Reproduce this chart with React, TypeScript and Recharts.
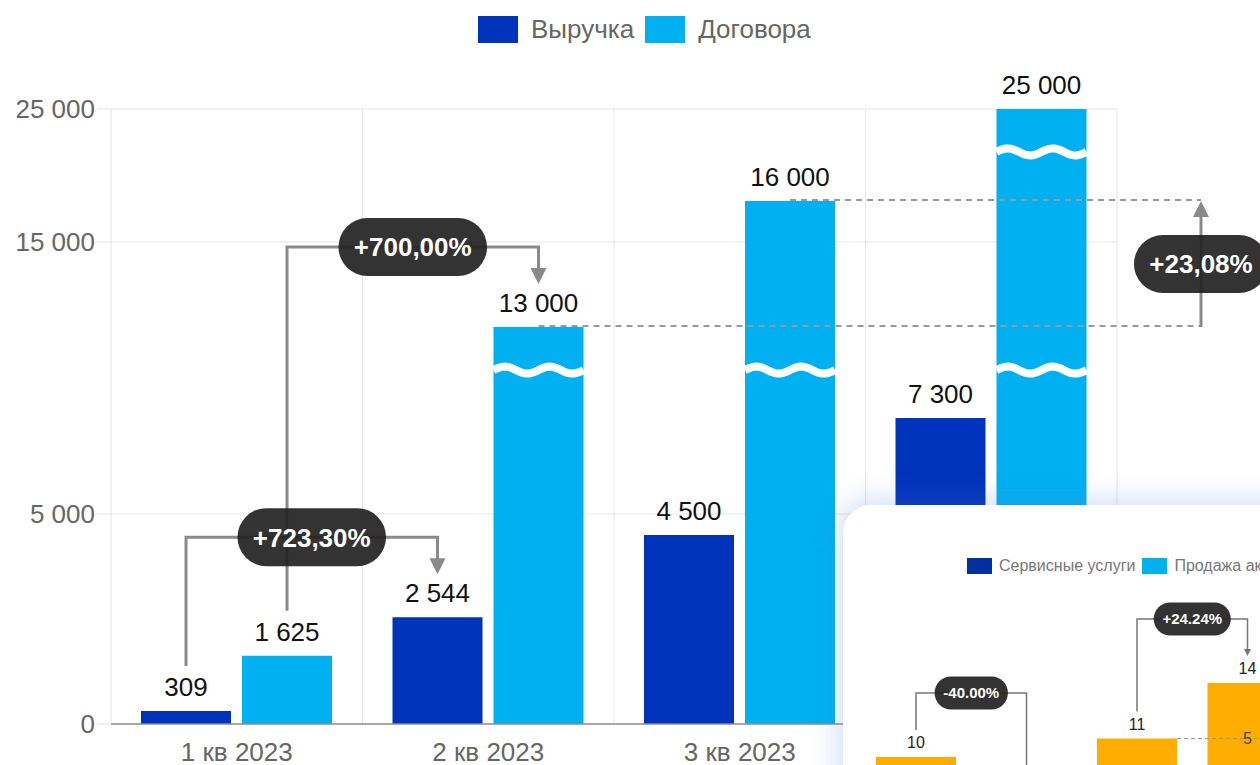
import React from "react";
import { BarChart, Bar, XAxis, YAxis, CartesianGrid, LabelList, Legend } from "recharts";

const quarters = ["1 кв 2023", "2 кв 2023", "3 кв 2023", "4 кв 2023"];
const revenue = [309, 2544, 4500, 7300];
const contracts = [1625, 13000, 16000, 25000];
const yTicks = [0, 5000, 15000, 25000];

// the axis is broken: value -> drawn height (px)
const scaleValues = [0, 5000, 7300, 13000, 15000, 16000, 25000];
const scaleHeights = [0, 210, 306, 397, 482, 523, 615];
const breakValues = [10300, 20800];

const revenueGrowth = "+723,30%";
const contractGrowth12 = "+700,00%";
const contractGrowth23 = "+23,08%";

// the second card peeking in at the bottom right
const insetCategories = ["I", "II", "III", "IV"];
const insetValues = [10, 6, 11, 14];
const insetLegendNames = ["Сервисные услуги", "Продажа аксессуаров"];
const insetChanges = ["-40.00%", "+24.24%"];
const insetNote = "5";

const DARK = "#0033bb";
const LIGHT = "#00b0f0";
const ORANGE = "#ffad00";
const LINE = "#8a8a8a";
const FONT = "'Liberation Sans', Arial, sans-serif";

const W = 1260;
const H = 765;
const MARGIN = { top: 109, right: 143, bottom: 0, left: 0 };
const Y_W = 111;
const X_H = 41;
const BAR = 90;
const GAP = 11;
const H_MAX = scaleHeights[scaleHeights.length - 1];

const plot = {
  left: MARGIN.left + Y_W,
  top: MARGIN.top,
  width: W - MARGIN.left - Y_W - MARGIN.right,
  height: H - MARGIN.top - MARGIN.bottom - X_H,
};

function toHeight(v: number) {
  for (let i = 1; i < scaleValues.length; i++) {
    if (v <= scaleValues[i]) {
      const t = (v - scaleValues[i - 1]) / (scaleValues[i] - scaleValues[i - 1]);
      return scaleHeights[i - 1] + t * (scaleHeights[i] - scaleHeights[i - 1]);
    }
  }
  return H_MAX;
}

const fmt = (v: number) => String(v).replace(/\B(?=(\d{3})+(?!\d))/g, " ");

const data = quarters.map((q, i) => ({
  quarter: q,
  revenue: toHeight(revenue[i]),
  contracts: toHeight(contracts[i]),
  revenueValue: revenue[i],
  contractsValue: contracts[i],
}));

const step = plot.width / quarters.length;
const barOffset = Math.floor((step - (2 * BAR + GAP)) / 2);
const barCenter = (s: number, i: number) =>
  plot.left + i * step + barOffset + s * (BAR + GAP) + BAR / 2;
const yOf = (v: number) => plot.top + plot.height - (toHeight(v) * plot.height) / H_MAX;

// approximate Arial Bold advance widths (em)
function textWidth(s: string, size: number) {
  let w = 0;
  for (const c of s) {
    if (c === "%") w += 0.889;
    else if (c === "+") w += 0.584;
    else if (c === "," || c === ".") w += 0.278;
    else if (c === "-") w += 0.333;
    else w += 0.556;
  }
  return w * size;
}

function wave(x: number, w: number, yc: number) {
  let d = `M${x},${yc}`;
  for (let t = 2; t <= w; t += 2) {
    d += ` L${x + t},${yc - 3.5 * Math.sin((t / w) * 4 * Math.PI)}`;
  }
  return d;
}

const BrokenBar = (props: any) => {
  const { x, y, width, height, fill, payload } = props;
  const bottom = y + height;
  const k = payload.contracts ? height / payload.contracts : 0;
  return (
    <g>
      <rect x={x} y={y} width={width} height={height} fill={fill} />
      {breakValues
        .filter((b) => b < payload.contractsValue)
        .map((b) => (
          <path key={b} d={wave(x, width, bottom - toHeight(b) * k)} stroke="#fff" strokeWidth={8} fill="none" />
        ))}
    </g>
  );
};

const ValueLabel = (p: any) => (
  <text x={p.x + p.width / 2} y={p.y - 15} textAnchor="middle" fontSize={26} fill="#111">
    {fmt(p.value)}
  </text>
);

const Pill = ({ cx, cy, text, size, h }: { cx: number; cy: number; text: string; size: number; h: number }) => {
  const w = textWidth(text, size) + h * 0.53;
  return (
    <g>
      <rect x={cx - w / 2} y={cy - h / 2} width={w} height={h} rx={h / 2} fill="#222" opacity={0.92} />
      <text x={cx} y={cy} dy="0.36em" textAnchor="middle" fontSize={size} fontWeight="bold" fill="#fff">
        {text}
      </text>
    </g>
  );
};

const MainLegend = (props: any) => (
  <div style={{ display: "flex", alignItems: "center" }}>
    {(props.payload || []).map((e: any) => (
      <div key={e.value} style={{ display: "flex", alignItems: "center", marginRight: 11 }}>
        <div style={{ width: 40, height: 27, background: e.color, marginRight: 13 }} />
        <span style={{ fontSize: 26, color: "#666", fontFamily: FONT }}>{e.value}</span>
      </div>
    ))}
  </div>
);

const brackets = [
  { text: revenueGrowth, s: 0, values: revenue, from: 0, to: 1 },
  { text: contractGrowth12, s: 1, values: contracts, from: 0, to: 1 },
];

function MainAnnotations() {
  const xR = plot.left + plot.width + 84;
  const yA = yOf(contracts[1]);
  const yB = yOf(contracts[2]);
  return (
    <svg width={W} height={H} style={{ position: "absolute", left: 0, top: 0, pointerEvents: "none", fontFamily: FONT }}>
      <path d={`M${barCenter(1, 1)},${yA - 1} H${xR}`} stroke="#999" strokeWidth={2} strokeDasharray="6 5" fill="none" />
      <path d={`M${barCenter(1, 2)},${yB - 1} H${xR}`} stroke="#999" strokeWidth={2} strokeDasharray="6 5" fill="none" />
      <path d={`M${xR},${yA} V${yB + 14}`} stroke={LINE} strokeWidth={3} fill="none" />
      <polygon points={`${xR - 8},${yB + 16} ${xR + 8},${yB + 16} ${xR},${yB}`} fill={LINE} />
      {brackets.map((b) => {
        const x1 = barCenter(b.s, b.from);
        const x2 = barCenter(b.s, b.to);
        const y1 = yOf(b.values[b.from]);
        const y2 = yOf(b.values[b.to]);
        const level = Math.min(y1, y2) - 80;
        return (
          <g key={b.text}>
            <path d={`M${x1},${y1 - 45} V${level} H${x2} V${y2 - 58}`} stroke={LINE} strokeWidth={3} fill="none" />
            <polygon points={`${x2 - 8},${y2 - 59} ${x2 + 8},${y2 - 59} ${x2},${y2 - 43}`} fill={LINE} />
          </g>
        );
      })}
      {brackets.map((b) => {
        const x1 = barCenter(b.s, b.from);
        const x2 = barCenter(b.s, b.to);
        const level = Math.min(yOf(b.values[b.from]), yOf(b.values[b.to])) - 80;
        return <Pill key={b.text} cx={(x1 + x2) / 2} cy={level} text={b.text} size={26} h={58} />;
      })}
      <Pill cx={xR} cy={(yA + yB) / 2} text={contractGrowth23} size={26} h={58} />
    </svg>
  );
}

// inset chart layout
const IN_W = 460;
const IN_H = 437;
const IN_M = { top: 67, right: 0, bottom: 0, left: 18 };
const IN_BAR = 80;
const IN_MAX = 20;
const inPlotW = IN_W - IN_M.left - IN_M.right;
const inPlotH = IN_H - IN_M.top - IN_M.bottom;
const inStep = inPlotW / insetCategories.length;
const inOffset = Math.floor((inStep - IN_BAR) / 2);
const inCenter = (i: number) => IN_M.left + i * inStep + inOffset + IN_BAR / 2;
const inY = (v: number) => IN_M.top + inPlotH - (v * inPlotH) / IN_MAX;

const insetData = insetCategories.map((c, i) => ({ cat: c, value: insetValues[i] }));

const InsetLegend = () => (
  <div style={{ display: "flex", alignItems: "center" }}>
    {insetLegendNames.map((n, i) => (
      <div key={n} style={{ display: "flex", alignItems: "center", marginRight: 7 }}>
        <div style={{ width: 25, height: 16, background: i === 0 ? "#0030a0" : LIGHT, marginRight: 7 }} />
        <span style={{ fontSize: 16, color: "#777", fontFamily: FONT, whiteSpace: "nowrap" }}>{n}</span>
      </div>
    ))}
  </div>
);

const InsetLabel = (p: any) => (
  <text x={p.x + p.width / 2} y={p.y - 9} textAnchor="middle" fontSize={16} fill="#222">
    {p.value}
  </text>
);

function InsetAnnotations() {
  const pairs = [
    [0, 1],
    [2, 3],
  ];
  return (
    <svg width={640} height={420} style={{ position: "absolute", left: 0, top: 0, pointerEvents: "none", fontFamily: FONT }}>
      <path
        d={`M${inCenter(2) + IN_BAR / 2},${inY(insetValues[2])} H${inCenter(3) + IN_BAR / 2}`}
        stroke="#999"
        strokeWidth={1}
        strokeDasharray="4 3"
        fill="none"
      />
      <text x={inCenter(3)} y={inY(insetValues[2])} dy="0.36em" textAnchor="middle" fontSize={16} fill="#444">
        {insetNote}
      </text>
      {pairs.map(([a, b], k) => {
        const x1 = inCenter(a);
        const x2 = inCenter(b);
        const y1 = inY(insetValues[a]);
        const y2 = inY(insetValues[b]);
        const level = Math.min(y1, y2) - 64;
        return (
          <g key={k}>
            <path d={`M${x1},${y1 - 27} V${level} H${x2} V${y2 - 33}`} stroke="#777" strokeWidth={1.5} fill="none" />
            <polygon points={`${x2 - 3.5},${y2 - 34} ${x2 + 3.5},${y2 - 34} ${x2},${y2 - 27}`} fill="#777" />
            <Pill cx={(x1 + x2) / 2} cy={level} text={insetChanges[k]} size={15} h={33} />
          </g>
        );
      })}
    </svg>
  );
}

export default function App() {
  const yTickHeights = yTicks.map(toHeight);
  return (
    <div
      style={{
        position: "fixed",
        left: 0,
        top: 0,
        width: W,
        height: H,
        overflow: "hidden",
        background: "#fff",
        fontFamily: FONT,
      }}
    >
      <BarChart width={W} height={H} data={data} margin={MARGIN} barSize={BAR} barGap={GAP}>
        <CartesianGrid
          stroke="#e6e6e6"
          verticalCoordinatesGenerator={({ offset }: any) =>
            quarters.map((_, i) => offset.left + (i * offset.width) / quarters.length).concat(offset.left + offset.width)
          }
        />
        <XAxis
          dataKey="quarter"
          height={X_H}
          interval={0}
          tickLine={false}
          tickSize={6}
          tickMargin={13}
          axisLine={{ stroke: "#8f8f8f", strokeWidth: 1.5 }}
          tick={{ fill: "#666", fontSize: 26 }}
        />
        <YAxis
          width={Y_W}
          domain={[0, H_MAX]}
          ticks={yTickHeights}
          interval={0}
          tickFormatter={(_: any, i: number) => fmt(yTicks[i])}
          axisLine={false}
          tickLine={{ stroke: "#e6e6e6" }}
          tickSize={14}
          tickMargin={2}
          tick={{ fill: "#666", fontSize: 26 }}
        />
        <Legend
          layout="horizontal"
          verticalAlign="middle"
          align="center"
          wrapperStyle={{ top: 14, left: 478, width: "auto" }}
          content={MainLegend}
        />
        <Bar dataKey="revenue" name="Выручка" fill={DARK} isAnimationActive={false}>
          <LabelList dataKey="revenueValue" content={ValueLabel} />
        </Bar>
        <Bar dataKey="contracts" name="Договора" fill={LIGHT} shape={BrokenBar} isAnimationActive={false}>
          <LabelList dataKey="contractsValue" content={ValueLabel} />
        </Bar>
      </BarChart>
      <MainAnnotations />
      <div
        style={{
          position: "absolute",
          left: 843,
          top: 505,
          width: 640,
          height: 420,
          background: "#fff",
          borderRadius: 28,
          boxShadow: "0 0 26px 8px rgba(80,125,225,0.22)",
          overflow: "hidden",
        }}
      >
        <BarChart width={IN_W} height={IN_H} data={insetData} margin={IN_M} barSize={IN_BAR}>
          <XAxis dataKey="cat" hide />
          <YAxis hide domain={[0, IN_MAX]} />
          <Legend
            layout="horizontal"
            verticalAlign="middle"
            align="center"
            wrapperStyle={{ top: 52, left: 124, width: "auto" }}
            content={InsetLegend}
          />
          <Bar dataKey="value" fill={ORANGE} isAnimationActive={false}>
            <LabelList dataKey="value" content={InsetLabel} />
          </Bar>
        </BarChart>
        <InsetAnnotations />
      </div>
    </div>
  );
}
